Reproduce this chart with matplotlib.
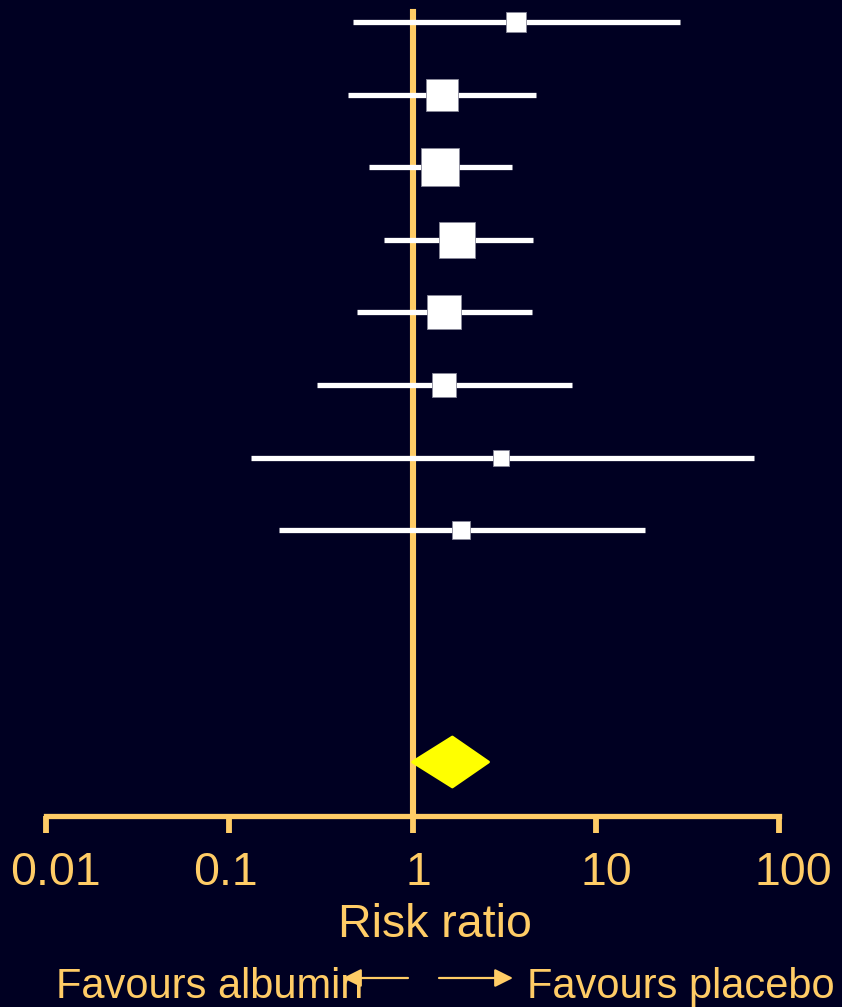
import numpy as np
import matplotlib
matplotlib.use('Agg')
import matplotlib.pyplot as plt
from matplotlib.patches import Polygon, FancyArrowPatch
from matplotlib.transforms import ScaledTranslation

# study estimates (risk ratio with 95% CI) and pooled result
rr = [3.65, 1.44, 1.41, 1.74, 1.48, 1.48, 3.03, 1.85]
ci_lo = [0.476, 0.447, 0.582, 0.695, 0.50, 0.303, 0.132, 0.188]
ci_hi = [28.8, 4.70, 3.47, 4.53, 4.48, 7.39, 73.0, 18.5]
weights = [6.2, 15.9, 22.4, 21.2, 16.9, 8.9, 3.5, 5.0]
pooled = (1.65, 1.0, 2.6)

tick_vals = [0.01, 0.1, 1, 10, 100]
tick_labels = ['0.01', '0.1', '1', '10', '100']

bg = '#000022'
gold = '#FFCC66'
plt.rcParams['font.family'] = ['Liberation Sans', 'DejaVu Sans']

W, H = 842, 1007
fig = plt.figure(figsize=(W / 100, H / 100), dpi=100, facecolor=bg)
base = 816
ax = fig.add_axes([46 / W, 1 - base / H, 733 / W, base / H])
ax.set_facecolor(bg)

row_gap = 72.6
top_off = 22
ax.set_xscale('log')
ax.set_xlim(0.01, 100)
ax.set_ylim((base - top_off) / row_gap, -top_off / row_gap)

# line of no effect
ax.axvline(1, ymin=0, ymax=(base - 12) / base, color=gold, lw=4.4, zorder=1)

rows = np.arange(len(rr))
for i in rows:
    ax.plot([ci_lo[i], ci_hi[i]], [i, i], color='white', lw=3.8,
            solid_capstyle='butt', zorder=2)
    side = 8.03 * np.sqrt(weights[i]) * 0.72
    ax.plot(rr[i], i, marker='s', ms=side, color='white', mec='#888899',
            mew=0.6, zorder=3)

# pooled diamond
py = (762 - top_off) / row_gap
dh = 25 / row_gap
pt, lo, hi = pooled
diamond = Polygon([[lo, py], [pt, py - dh], [hi, py], [pt, py + dh]],
                  closed=True, facecolor='#FFFF00', edgecolor='#FFFF00',
                  lw=2, joinstyle='round', zorder=4)
ax.add_patch(diamond)

for s in ['top', 'left', 'right']:
    ax.spines[s].set_visible(False)
ax.spines['bottom'].set_color(gold)
ax.spines['bottom'].set_linewidth(3.8)
ax.set_yticks([])
ax.set_xticks(tick_vals)
ax.set_xticklabels(tick_labels)
ax.minorticks_off()
ax.tick_params(axis='x', colors=gold, direction='out', length=12, width=4.2,
               labelsize=33.5, pad=13)
# nudge tick labels sideways (pixels)
for lab, dx in zip(ax.get_xticklabels(), [9, -4, 6, 11, 14]):
    lab.set_transform(lab.get_transform() +
                      ScaledTranslation(dx / 100, 0, fig.dpi_scale_trans))

fig.text(434.5 / W, 1 - 937 / H, 'Risk ratio', color=gold, fontsize=33.5,
         ha='center', va='baseline')
fig.text(56 / W, 1 - 998 / H, 'Favours albumin', color=gold, fontsize=30,
         ha='left', va='baseline')
fig.text(527 / W, 1 - 998 / H, 'Favours placebo', color=gold, fontsize=30,
         ha='left', va='baseline')

ay = 1 - 978 / H
for x0, x1 in [(408, 343), (439, 513)]:
    arr = FancyArrowPatch((x0 / W, ay), (x1 / W, ay), transform=fig.transFigure,
                          arrowstyle='-|>,head_length=11,head_width=5.5',
                          color=gold, lw=1.6, mutation_scale=1,
                          shrinkA=0, shrinkB=0)
    fig.add_artist(arr)

fig.savefig('out.png', dpi=100, facecolor=bg)
